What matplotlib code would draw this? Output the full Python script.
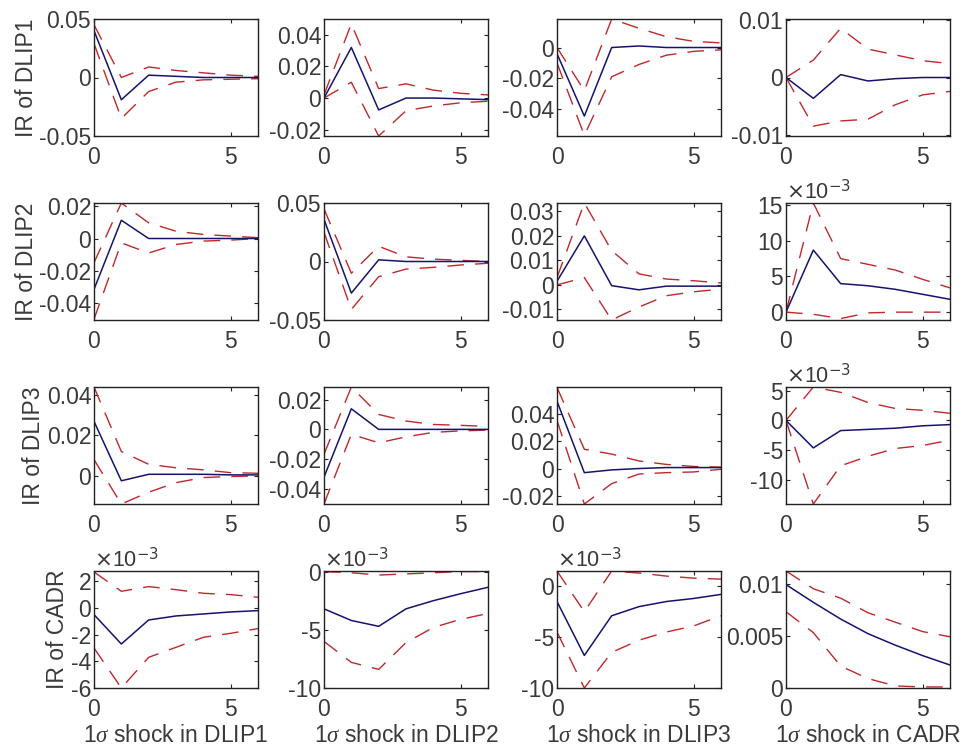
import matplotlib
matplotlib.use("Agg")
import matplotlib.pyplot as plt
from matplotlib.ticker import FuncFormatter
import numpy as np

plt.rcParams['font.family'] = ['Liberation Sans', 'DejaVu Sans']
plt.rcParams['mathtext.fontset'] = 'custom'
plt.rcParams['mathtext.it'] = 'Liberation Serif:italic'

# horizon
steps = [0, 1, 2, 3, 4, 5, 6]

response_names = ["DLIP1", "DLIP2", "DLIP3", "CADR"]
shock_names = ["DLIP1", "DLIP2", "DLIP3", "CADR"]

# impulse responses [row = response][col = shock]
irf = [
    [[0.040, -0.019, 0.002, 0.001, 0.0, 0.0, 0.0],
     [0.0, 0.032, -0.0075, 0.0, 0.0, -0.0005, -0.001],
     [-0.004, -0.0445, 0.0, 0.001, 0.0, 0.0, 0.0],
     [0.0, -0.0036, 0.0005, -0.0006, -0.0002, 0.0, 0.0]],
    [[-0.0315, 0.0113, 0.0, 0.0, 0.0, 0.0, 0.0],
     [0.036, -0.027, 0.0014, 0.0, 0.0, 0.0, 0.0],
     [0.0015, 0.020, -0.0003, -0.002, -0.0005, -0.0005, -0.0005],
     [0.0, 0.0087, 0.0040, 0.0037, 0.0032, 0.0025, 0.0018]],
    [[0.0268, -0.0024, 0.0008, 0.0008, 0.0008, 0.0005, 0.0005],
     [-0.032, 0.0138, 0.0, 0.0, 0.0, 0.0, 0.0],
     [0.049, -0.003, -0.001, 0.0, 0.0007, 0.0007, 0.0007],
     [0.0, -0.0046, -0.0017, -0.0015, -0.0013, -0.0009, -0.0007]],
    [[-0.0005, -0.0027, -0.0009, -0.0006, -0.00045, -0.0003, -0.0002],
     [-0.0032, -0.0042, -0.0047, -0.0032, -0.0025, -0.0019, -0.00135],
     [-0.0015, -0.0068, -0.0029, -0.0020, -0.0015, -0.0012, -0.0008],
     [0.0099, 0.0082, 0.0066, 0.0052, 0.0041, 0.0031, 0.0022]],
]

upper = [
    [[0.045, 0.0, 0.009, 0.006, 0.004, 0.002, 0.001],
     [0.002, 0.047, 0.006, 0.009, 0.005, 0.003, 0.002],
     [0.0, -0.028, 0.0185, 0.0125, 0.007, 0.004, 0.003],
     [0.0, 0.003, 0.0085, 0.0049, 0.0039, 0.0029, 0.0024]],
    [[-0.015, 0.022, 0.0097, 0.0045, 0.0025, 0.0015, 0.0005],
     [0.045, -0.010, 0.013, 0.004, 0.002, 0.001, 0.0],
     [0.003, 0.0334, 0.014, 0.0045, 0.0024, 0.0017, 0.0008],
     [0.0, 0.0153, 0.0075, 0.0067, 0.0059, 0.0046, 0.0034]],
    [[0.0437, 0.012, 0.0057, 0.004, 0.003, 0.0016, 0.0013],
     [-0.0167, 0.0284, 0.010, 0.0056, 0.0033, 0.0027, 0.002],
     [0.059, 0.014, 0.0105, 0.0055, 0.003, 0.0015, 0.001],
     [0.0, 0.0056, 0.0047, 0.0030, 0.0020, 0.0017, 0.0012]],
    [[0.0027, 0.00125, 0.0016, 0.00137, 0.0011, 0.0010, 0.0008],
     [0.0, -0.0001, -0.0003, -0.0002, -0.0001, 0.0, 0.0],
     [0.0015, -0.0025, 0.0015, 0.0013, 0.0010, 0.0008, 0.0007],
     [0.0112, 0.0095, 0.0086, 0.0072, 0.0063, 0.0054, 0.0049]],
]

lower = [
    [[0.029, -0.035, -0.012, -0.004, -0.002, -0.0015, -0.001],
     [0.0, 0.010, -0.024, -0.008, -0.005, -0.003, -0.002],
     [-0.010, -0.057, -0.019, -0.011, -0.005, -0.0025, -0.0015],
     [0.0, -0.0084, -0.0075, -0.0072, -0.0047, -0.0030, -0.0024]],
    [[-0.050, -0.0027, -0.009, -0.0037, -0.0016, -0.001, 0.0],
     [0.025, -0.041, -0.013, -0.0065, -0.005, -0.003, -0.0015],
     [0.0, 0.003, -0.0143, -0.009, -0.0044, -0.0028, -0.0017],
     [0.0, -0.0003, -0.0009, -0.0001, 0.0, 0.0, 0.0]],
    [[0.008, -0.0138, -0.008, -0.0033, -0.0008, -0.0003, 0.0],
     [-0.050, -0.0033, -0.009, -0.005, -0.002, -0.001, -0.0005],
     [0.035, -0.0258, -0.011, -0.004, -0.003, -0.0025, -0.0005],
     [0.0, -0.014, -0.0076, -0.0060, -0.0047, -0.0042, -0.0033]],
    [[-0.0030, -0.0060, -0.0037, -0.00295, -0.0022, -0.0019, -0.00155],
     [-0.0060, -0.0078, -0.0084, -0.0061, -0.0048, -0.0041, -0.0036],
     [-0.0045, -0.0100, -0.0065, -0.0053, -0.0045, -0.0039, -0.0029],
     [0.0073, 0.0053, 0.0021, 0.0009, 0.0002, 0.0001, 0.0001]],
]

ylims = [
    [(-0.05, 0.05), (-0.024, 0.050), (-0.0574, 0.0185), (-0.0101, 0.0101)],
    [(-0.0505, 0.022), (-0.05, 0.05), (-0.0143, 0.0334), (-0.0011, 0.0153)],
    [(-0.0138, 0.0437), (-0.05, 0.0284), (-0.0258, 0.0593), (-0.014, 0.0056)],
    [(-0.006, 0.00277), (-0.010, 0.00005), (-0.010, 0.0015), (0.0, 0.0112)],
]

yticks = [
    [[-0.05, 0, 0.05], [-0.02, 0, 0.02, 0.04], [-0.04, -0.02, 0], [-0.01, 0, 0.01]],
    [[-0.04, -0.02, 0, 0.02], [-0.05, 0, 0.05], [-0.01, 0, 0.01, 0.02, 0.03], [0, 0.005, 0.010, 0.015]],
    [[0, 0.02, 0.04], [-0.04, -0.02, 0, 0.02], [-0.02, 0, 0.02, 0.04], [-0.010, -0.005, 0, 0.005]],
    [[-0.006, -0.004, -0.002, 0, 0.002], [-0.010, -0.005, 0], [-0.010, -0.005, 0], [0, 0.005, 0.01]],
]

scaled = [
    [False, False, False, False],
    [False, False, False, True],
    [False, False, False, True],
    [True, True, True, False],
]

W, H = 965, 751
fig = plt.figure(figsize=(W / 100, H / 100), dpi=100)

lefts = [94, 324, 557, 786]
tops = [19, 203, 387, 571]
aw, ah = 164, 117

fs = 16.5
tick_color = '#3a3a3a'

for r in range(4):
    for c in range(4):
        ax = fig.add_axes([lefts[c] / W, 1 - (tops[r] + ah) / H, aw / W, ah / H])
        ax.plot(steps, upper[r][c], color='#c0282b', lw=1.0, dashes=(12, 8))
        ax.plot(steps, lower[r][c], color='#c0282b', lw=1.0, dashes=(12, 8))
        ax.plot(steps, irf[r][c], color='#14146e', lw=1.1)
        ax.set_xlim(0, 6)
        ax.set_ylim(*ylims[r][c])
        ax.set_xticks([0, 5])
        ax.set_yticks(yticks[r][c])
        if scaled[r][c]:
            ax.yaxis.set_major_formatter(FuncFormatter(lambda v, p: '%g' % round(v * 1e3, 6)))
            ax.text(0.0, 1.0, r'$\times$10$^{-3}$', transform=ax.transAxes,
                    fontsize=fs - 1, color=tick_color, ha='left', va='bottom')
        else:
            ax.yaxis.set_major_formatter(FuncFormatter(lambda v, p: '%g' % round(v, 8)))
        ax.tick_params(direction='in', top=True, right=True, length=3, width=0.8,
                       labelsize=fs, colors='#222222', labelcolor=tick_color)
        ax.tick_params(axis='y', pad=2)
        ax.tick_params(axis='x', pad=7)
        for s in ax.spines.values():
            s.set_linewidth(1.0)
            s.set_color('#222222')
        if c == 0:
            ax.set_ylabel('IR of ' + response_names[r], fontsize=fs, color=tick_color, labelpad=1)
        if r == 3:
            ax.set_xlabel('1$\\sigma$ shock in ' + shock_names[c], fontsize=fs, color=tick_color, labelpad=2)

fig.savefig('out.png', dpi=100)
